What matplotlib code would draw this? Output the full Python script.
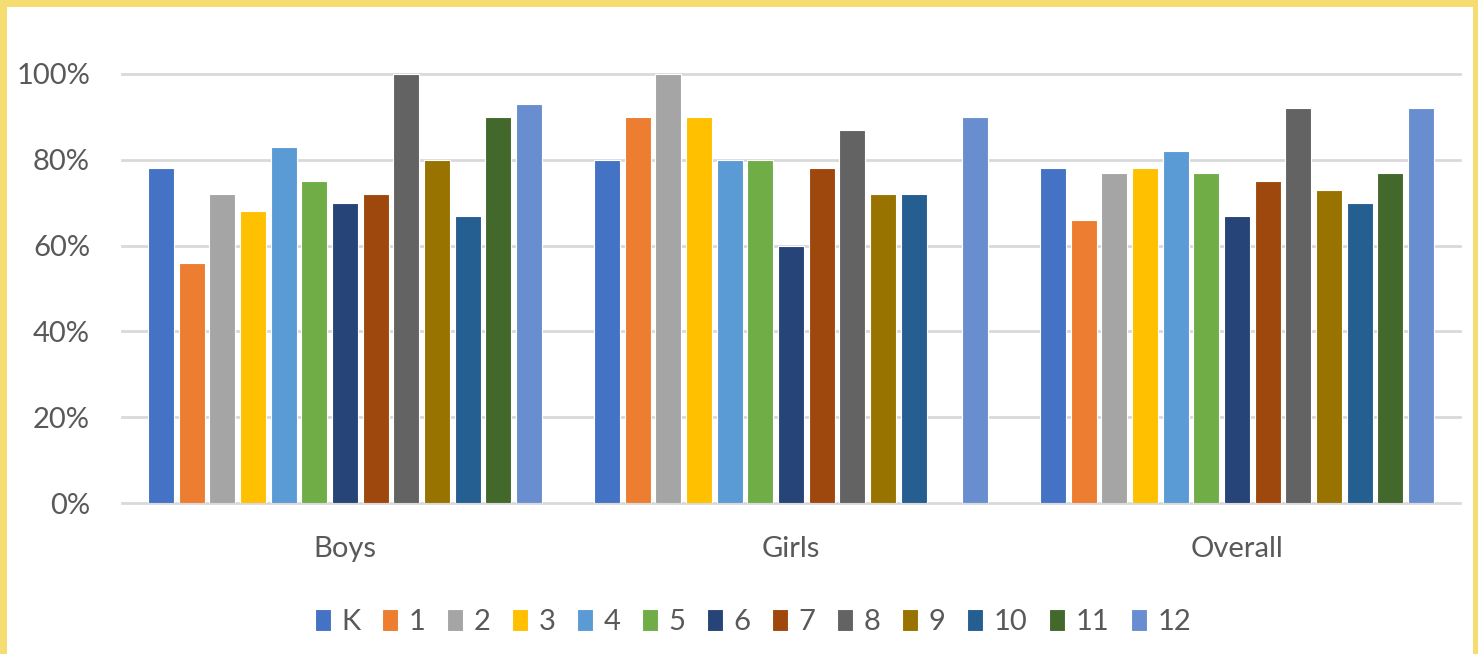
import numpy as np
import matplotlib
matplotlib.use("Agg")
import matplotlib.pyplot as plt
from matplotlib.patches import Rectangle

# ----------------------------
# Data (share of students, by grade)
# ----------------------------
groups = ["Boys", "Girls", "Overall"]
grades = ["K", "1", "2", "3", "4", "5", "6", "7", "8", "9", "10", "11", "12"]

boys = [0.78, 0.56, 0.72, 0.68, 0.83, 0.75, 0.70, 0.72, 1.00, 0.80, 0.67, 0.90, 0.93]
girls = [0.80, 0.90, 1.00, 0.90, 0.80, 0.80, 0.60, 0.78, 0.87, 0.72, 0.72, None, 0.90]
overall = [0.78, 0.66, 0.77, 0.78, 0.82, 0.77, 0.67, 0.75, 0.92, 0.73, 0.70, 0.77, 0.92]

yticks = [0, 0.2, 0.4, 0.6, 0.8, 1.0]
ytick_labels = ["0%", "20%", "40%", "60%", "80%", "100%"]

colors = ["#4472C4", "#ED7D31", "#A5A5A5", "#FFC000", "#5B9BD5", "#70AD47",
          "#264478", "#9E480E", "#636363", "#997300", "#255E91", "#43682B",
          "#698ED0"]

TEXT = "#595959"
GRID = "#D9D9D9"

plt.rcParams["font.family"] = ["Lato", "DejaVu Sans"]

W, H = 1478, 654
fig = plt.figure(figsize=(W / 100, H / 100), dpi=100)
fig.patch.set_facecolor("#F6DD72")

# white chart area inside the yellow frame
fig.add_artist(Rectangle((7 / W, 0), (1473 - 7) / W, 1 - 7 / H,
                         transform=fig.transFigure, facecolor="white",
                         edgecolor="none", zorder=0))

ax = fig.add_axes([122 / W, 1 - 503 / H, (1460 - 122) / W, (503 - 74) / H])
ax.set_facecolor("none")

# values by grade across the three groups
table = np.array([boys, girls, overall], dtype=float).T  # shape (13, 3)
x = np.arange(len(groups))
slot = 0.0688
width = 0.058

for i, grade in enumerate(grades):
    offs = (i - (len(grades) - 1) / 2) * slot
    ax.bar(x + offs, table[i], width=width, color=colors[i],
           edgecolor="white", linewidth=0.8, label=grade, zorder=3)

ax.set_xlim(-0.5, len(groups) - 0.5)
ax.set_ylim(0, 1.0)

for yv in yticks:
    ax.axhline(yv, color=GRID, linewidth=2, zorder=1, clip_on=False)

for s in ax.spines.values():
    s.set_visible(False)

ax.set_yticks(yticks)
ax.set_yticklabels(ytick_labels)
ax.set_xticks(x)
ax.set_xticklabels(groups)
ax.tick_params(axis="y", length=0, pad=23, labelsize=21, labelcolor=TEXT)
ax.tick_params(axis="x", length=0, pad=24, labelsize=21, labelcolor=TEXT)

fig.legend(loc="center", bbox_to_anchor=(753 / W, 1 - 622 / H),
           ncol=len(grades), frameon=False, fontsize=21, labelcolor=TEXT,
           handlelength=0.55, handleheight=0.75, handletextpad=0.35,
           columnspacing=0.75, borderaxespad=0)

fig.savefig("out.png", dpi=100, facecolor=fig.get_facecolor())
